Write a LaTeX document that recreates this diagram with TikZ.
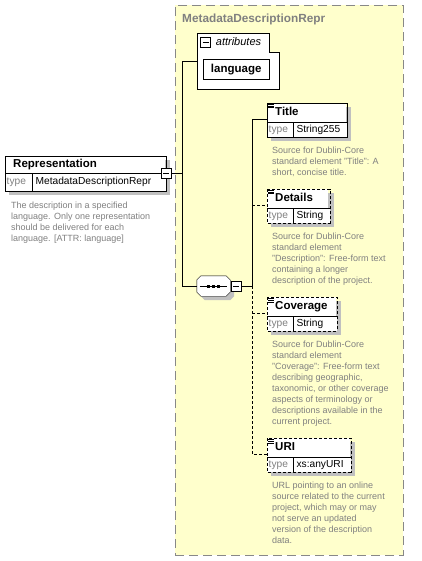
\documentclass[tikz,border=0pt]{standalone}
\usepackage{fontspec}
\setmainfont{Liberation Sans}
\usepackage{tikz}
\usetikzlibrary{positioning,calc}

\definecolor{grpyellow}{RGB}{255,255,204}
\definecolor{grpborder}{RGB}{136,136,136}
\definecolor{doctext}{RGB}{128,128,128}
\definecolor{shadowgray}{RGB}{192,192,192}

\newcommand{\lblfont}{\fontsize{11.5}{13}\selectfont\bfseries}
\newcommand{\typfont}{\fontsize{10.2}{12}\selectfont}
\newcommand{\docfont}{\fontsize{9}{11}\selectfont}
% octagon outline of the sequence compositor, cut 4pt at each corner
\newcommand{\octpath}[1]{([xshift=4pt]#1.north west) -- ([xshift=-4pt]#1.north east)
  -- ([yshift=-4pt]#1.north east) -- ([yshift=4pt]#1.south east)
  -- ([xshift=-4pt]#1.south east) -- ([xshift=4pt]#1.south west)
  -- ([yshift=4pt]#1.south west) -- ([yshift=-4pt]#1.north west) -- cycle}

\pgfdeclarelayer{background}
\pgfdeclarelayer{shadows}
\pgfsetlayers{background,shadows,main}

\tikzset{
  typegroup/.style={rectangle, draw=grpborder, fill=grpyellow,
    dash pattern=on 9pt off 5pt, anchor=north west, inner sep=0pt},
  elemhead/.style={rectangle, fill=white, anchor=north west, inner xsep=8pt,
    inner ysep=0pt, minimum height=19pt, text height=8pt, text depth=2pt,
    align=left, font=\lblfont},
  typecell/.style={rectangle, fill=white, inner xsep=1.5pt, inner ysep=0pt,
    minimum height=14pt, text height=8pt, text depth=2.5pt, text width=23pt,
    align=left, font=\typfont, text=doctext},
  valcell/.style={rectangle, fill=white, inner xsep=3pt, inner ysep=0pt,
    minimum height=14pt, text height=8pt, text depth=2.5pt,
    align=left, font=\typfont},
  elemdoc/.style={anchor=north west, inner sep=0pt, align=left,
    font=\docfont, text=doctext},
  attrnode/.style={rectangle, draw, fill=white, anchor=north west,
    minimum width=66pt, minimum height=20pt, inner sep=0pt,
    text height=8pt, text depth=2pt, font=\lblfont},
  minusbox/.style={rectangle, draw, fill=white, minimum width=10pt,
    minimum height=10pt, inner sep=0pt,
    path picture={\draw ([xshift=2pt]path picture bounding box.west) --
      ([xshift=-2pt]path picture bounding box.east);}},
  seqbox/.style={rectangle, minimum width=33pt, minimum height=20pt, inner sep=0pt},
  optline/.style={dash pattern=on 3pt off 2pt}
}

\begin{document}
\begin{tikzpicture}[x=1pt, y=-1pt, line width=1pt]
  \useasboundingbox (0,0) rectangle (422,561);

  % ============ Complex type (yellow group) ============
  \begin{pgfonlayer}{background}
    \fill[white] (0,0) rectangle (422,561);
    \node[typegroup, minimum width=228pt, minimum height=550pt] (grp) at (175,5) {};
  \end{pgfonlayer}
  \node[anchor=west, inner sep=0pt, font=\fontsize{11.8}{13}\selectfont\bfseries,
    text=doctext] (grpname) at (182,19) {MetadataDescriptionRepr};

  % ============ Root element ============
  \node[elemhead, minimum height=17pt, text width=144pt] (rep) at (5,156) {Representation};
  \node[typecell, minimum height=17pt, text width=24pt,
    below right=0pt of rep.south west] (reptype) {type};
  \node[valcell, minimum height=17pt, text width=127pt,
    right=0pt of reptype] (repval) {MetadataDescriptionRepr};
  \node[elemdoc] (repdoc) at (11,201.5)
    {The description in a specified\\language. Only one representation\\should be delivered for each\\language. [ATTR: language]};

  % ============ Attributes ============
  \node[rectangle, minimum width=82pt, minimum height=56pt, anchor=north west,
    inner sep=0pt] (attrs) at (197,33) {};
  \draw[fill=white] (attrs.north west) -- ++(72,0) -- ++(0,19)
    -| (attrs.south east) -- (attrs.south west) -- cycle;
  \node[minusbox] (attrminus) at (205.5,42) {};
  \node[inner sep=0pt, font=\fontsize{11}{13}\selectfont\itshape,
    right=5pt of attrminus] (attrlbl) {attributes};
  \node[attrnode] (lang) at (203,59) {language};

  % ============ Sequence compositor ============
  \node[seqbox] (seq) at (213.5,286) {};
  \draw[fill=white] \octpath{seq};
  \draw ([xshift=3pt]seq.west) -- ([xshift=-3pt]seq.east);
  \foreach \dx in {-5,0,5}
    \fill ([xshift=\dx pt]seq.center) +(-1.5,-1.5) rectangle +(1.5,1.5);
  \node[minusbox, right=1pt of seq] (seqminus) {};

  % ============ Child elements ============
  \node[elemhead, text width=63pt] (title) at (267,103) {Title};
  \node[typecell, below right=0pt of title.south west] (titletype) {type};
  \node[valcell, text width=47pt, right=0pt of titletype] (titleval) {String255};
  \node[elemdoc] (titledoc) at (272,146.5)
    {Source for Dublin-Core\\standard element "Title": A\\short, concise title.};

  \node[elemhead, text width=45pt] (details) at (267,189) {Details};
  \node[typecell, below right=0pt of details.south west] (detailstype) {type};
  \node[valcell, text width=30pt, right=0pt of detailstype] (detailsval) {String};
  \node[elemdoc] (detailsdoc) at (272,232.5)
    {Source for Dublin-Core\\standard element\\"Description": Free-form text\\containing a longer\\description of the project.};

  \node[elemhead, text width=53pt] (coverage) at (267,297) {Coverage};
  \node[typecell, below right=0pt of coverage.south west] (coveragetype) {type};
  \node[valcell, text width=37pt, right=0pt of coveragetype] (coverageval) {String};
  \node[elemdoc] (coveragedoc) at (272,340.5)
    {Source for Dublin-Core\\standard element\\"Coverage": Free-form text\\describing geographic,\\taxonomic, or other coverage\\aspects of terminology or\\descriptions available in the\\current project.};

  \node[elemhead, text width=67pt] (uri) at (267,438) {URI};
  \node[typecell, below right=0pt of uri.south west] (uritype) {type};
  \node[valcell, text width=51pt, right=0pt of uritype] (urival) {xs:anyURI};
  \node[elemdoc] (uridoc) at (272,482)
    {URL pointing to an online\\source related to the current\\project, which may or may\\not serve an updated\\version of the description\\data.};

  % frames, dividers and element icons
  \foreach \e/\lt in {rep/solid, title/solid, details/optline, coverage/optline, uri/optline} {
    \draw[\lt] (\e.north west) rectangle (\e val.south east);
    \draw (\e type.north west) -- (\e val.north east);
    \draw (\e type.north east) -- (\e type.south east);
  }
  \foreach \e in {title, details, coverage, uri} {
    \foreach \d in {1.5, 3.2, 4.9}
      \draw[line width=0.8pt] ([shift={(1,\d)}]\e.north west) -- ++(6,0);
    \coordinate (\e in) at ([yshift=-16pt]\e.north west);
  }

  \node[minusbox] (repminus) at (166,173) {};

  % ============ Shadows ============
  \begin{pgfonlayer}{shadows}
    \foreach \e in {rep, title, details, coverage, uri}
      \fill[shadowgray] ([shift={(4,4)}]\e.north west) rectangle ([shift={(4,4)}]\e val.south east);
    \fill[shadowgray] ([shift={(4,4)}]lang.north west) rectangle ([shift={(4,4)}]lang.south east);
    \fill[shadowgray, transform canvas={shift={(4pt,-4pt)}}] \octpath{seq};
  \end{pgfonlayer}

  % ============ Connectors ============
  \coordinate (jrep) at (182,173);
  \coordinate (bus) at (252,286);
  \draw (repminus.east) -- (jrep);
  \draw (attrs.west) -| (jrep |- seq.west) -- (seq.west);
  \draw (seqminus.east) -- (bus);
  \draw (bus) -- (bus |- titlein) -- (titlein);
  \draw[optline] (bus) -- (bus |- uriin) -- (uriin);
  \draw[optline] (bus |- detailsin) -- (detailsin);
  \draw[optline] (bus |- coveragein) -- (coveragein);
\end{tikzpicture}
\end{document}
